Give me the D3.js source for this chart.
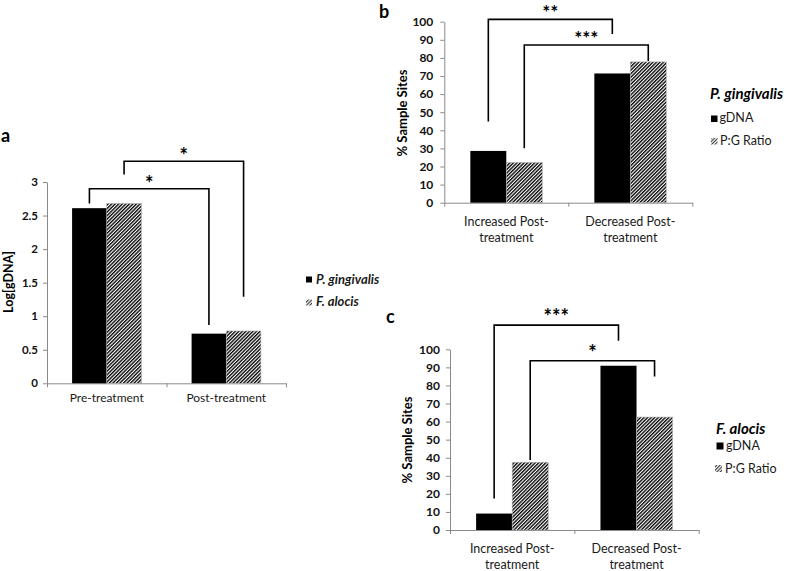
<!DOCTYPE html>
<html>
<head>
<meta charset="utf-8">
<script src="https://cdn.jsdelivr.net/npm/d3@7/dist/d3.min.js"></script>
<style>
  html, body { margin: 0; padding: 0; background: #fff; }
  svg { display: block; }
</style>
</head>
<body>
<svg id="chart" width="787" height="571"></svg>
<script>
// ---------------- DATA ----------------
// Panel a
const aCategories = [["Pre-treatment"], ["Post-treatment"]];
const aSeries = ["P. gingivalis", "F. alocis"];
const aPGingivalis = [2.61, 0.74];
const aFAlocis = [2.68, 0.78];
const aTicks = [0, 0.5, 1, 1.5, 2, 2.5, 3];
const aTickLabels = ["0", "0.5", "1", "1.5", "2", "2.5", "3"];
const aBrackets = [
  { from: [0, 0], to: [1, 0], top: 2.90, leftEnd: 2.68, rightEnd: 0.87, label: "*" },
  { from: [0, 1], to: [1, 1], top: 3.31, leftEnd: 3.11, rightEnd: 1.29, label: "*" }
];

// Panel b (P. gingivalis)
const bCategories = [["Increased Post-", "treatment"], ["Decreased Post-", "treatment"]];
const bSeries = ["gDNA", "P:G Ratio"];
const bGDNA = [28.6, 71.4];
const bRatio = [22.2, 77.8];
const bBrackets = [
  { from: [0, 0], to: [1, 0], top: 101.3, leftEnd: 44.8, rightEnd: 93.2, label: "**" },
  { from: [0, 1], to: [1, 1], top: 87.1, leftEnd: 30.1, rightEnd: 78.3, label: "***" }
];

// Panel c (F. alocis)
const cCategories = [["Increased Post-", "treatment"], ["Decreased Post-", "treatment"]];
const cSeries = ["gDNA", "P:G Ratio"];
const cGDNA = [9.1, 90.9];
const cRatio = [37.5, 62.5];
const cBrackets = [
  { from: [0, 0], to: [1, 0], top: 113.4, leftEnd: 17.5, rightEnd: 104.8, label: "***" },
  { from: [0, 1], to: [1, 1], top: 93.7, leftEnd: 38.7, rightEnd: 85.0, label: "*" }
];

const pctTicks = [0, 10, 20, 30, 40, 50, 60, 70, 80, 90, 100];
const pctTickLabels = pctTicks.map(String);

// ---------------- DRAWING ----------------
const FONT = "Lato, 'Open Sans', 'DejaVu Sans', sans-serif";
const AXIS_COLOR = "#8a8a8a";
const svg = d3.select("#chart");
svg.append("rect").attr("width", 787).attr("height", 571).attr("fill", "#fff");

const defs = svg.append("defs");
const pat = defs.append("pattern")
  .attr("id", "hatch")
  .attr("patternUnits", "userSpaceOnUse")
  .attr("width", 2.5).attr("height", 2.5)
  .attr("patternTransform", "rotate(45)");
pat.append("rect").attr("width", 2.5).attr("height", 2.5).attr("fill", "#fff");
pat.append("rect").attr("width", 1.35).attr("height", 2.5).attr("fill", "#000");

const pat2 = defs.append("pattern")
  .attr("id", "hatchIcon")
  .attr("patternUnits", "userSpaceOnUse")
  .attr("width", 2.4).attr("height", 2.4)
  .attr("patternTransform", "rotate(45)");
pat2.append("rect").attr("width", 2.4).attr("height", 2.4).attr("fill", "#fff");
pat2.append("rect").attr("width", 1.1).attr("height", 2.4).attr("fill", "#333");

function drawPanel(cfg) {
  const g = svg.append("g");
  const n = cfg.categories.length;
  const x = d3.scaleBand().domain(d3.range(n)).range(cfg.xRange).padding(0);
  const bw = x.bandwidth();
  const xs = d3.scaleBand().domain(d3.range(cfg.values.length)).range([bw * 0.21, bw * 0.79]).padding(0);
  const y = d3.scaleLinear().domain([0, cfg.yMax]).range(cfg.yRange);

  // Y axis
  const yAxis = g.append("g")
    .attr("transform", `translate(${cfg.xRange[0]},0)`)
    .call(d3.axisLeft(y).tickValues(cfg.ticks).tickSize(4).tickSizeOuter(0)
      .tickPadding(cfg.tickPad).tickFormat((d, i) => cfg.tickLabels[i]));
  yAxis.select(".domain").attr("stroke", AXIS_COLOR).attr("stroke-width", 1);
  yAxis.selectAll(".tick line").attr("stroke", AXIS_COLOR);
  yAxis.selectAll(".tick text")
    .attr("fill", "#111")
    .style("font-family", FONT)
    .style("font-size", cfg.tickFont + "px")
    .style("font-weight", "bold");

  // X axis (ticks at category boundaries)
  const xl = d3.scaleLinear().domain([0, n]).range(cfg.xRange);
  const xAxis = g.append("g")
    .attr("transform", `translate(0,${cfg.yRange[0]})`)
    .call(d3.axisBottom(xl).tickValues(d3.range(n + 1)).tickSize(4).tickSizeOuter(0).tickFormat(""));
  xAxis.select(".domain").attr("stroke", AXIS_COLOR).attr("stroke-width", 1);
  xAxis.selectAll(".tick line").attr("stroke", AXIS_COLOR);

  // Bars
  cfg.values.forEach((series, s) => {
    g.selectAll(null).data(series).enter().append("rect")
      .attr("x", (d, i) => x(i) + xs(s))
      .attr("y", d => y(d))
      .attr("width", xs.bandwidth())
      .attr("height", d => y(0) - y(d))
      .attr("fill", s === 0 ? "#000" : "url(#hatch)")
      .attr("stroke", s === 0 ? "none" : "#b0b0b0")
      .attr("stroke-width", s === 0 ? 0 : 0.6);
  });

  // Category labels
  cfg.categories.forEach((lines, i) => {
    const t = g.append("text")
      .attr("x", x(i) + bw / 2)
      .attr("y", cfg.yRange[0] + cfg.catOffset)
      .attr("text-anchor", "middle")
      .attr("fill", "#1a1a1a")
      .style("font-family", FONT)
      .style("font-size", cfg.catFont + "px");
    lines.forEach((ln, k) => {
      t.append("tspan").attr("x", x(i) + bw / 2).attr("dy", k === 0 ? 0 : cfg.catLine).text(ln);
    });
  });

  // Axis title
  g.append("text")
    .attr("transform", `translate(${cfg.titlePos[0]},${cfg.titlePos[1]}) rotate(-90)`)
    .attr("text-anchor", "middle")
    .attr("dominant-baseline", "central")
    .attr("fill", "#000")
    .style("font-family", FONT)
    .style("font-size", cfg.titleFont + "px")
    .style("font-weight", "bold")
    .text(cfg.title);

  // Brackets
  const cx = (p) => x(p[0]) + xs(p[1]) + xs.bandwidth() / 2;
  cfg.brackets.forEach(b => {
    const x1 = cx(b.from), x2 = cx(b.to);
    g.append("path")
      .attr("d", `M${x1},${y(b.leftEnd)}V${y(b.top)}H${x2}V${y(b.rightEnd)}`)
      .attr("fill", "none")
      .attr("stroke", "#000")
      .attr("stroke-width", 1.6);
    g.append("text")
      .attr("x", (x1 + x2) / 2)
      .attr("y", y(b.top) + cfg.starOffset)
      .attr("text-anchor", "middle")
      .attr("fill", "#000")
      .style("font-family", FONT)
      .style("font-size", cfg.starFont + "px")
      .style("font-weight", "bold")
      .text(b.label);
  });

  // Panel letter
  g.append("text")
    .attr("x", cfg.letterPos[0]).attr("y", cfg.letterPos[1])
    .attr("fill", "#000")
    .style("font-family", FONT)
    .style("font-size", "18px")
    .style("font-weight", "bold")
    .text(cfg.letter);

  // Legend
  const L = cfg.legend;
  if (L.title) {
    g.append("text").attr("x", L.titlePos[0]).attr("y", L.titlePos[1])
      .attr("fill", "#000")
      .style("font-family", FONT).style("font-size", L.titleFont + "px")
      .style("font-weight", "bold").style("font-style", "italic")
      .text(L.title);
  }
  L.items.forEach((it, k) => {
    g.append("rect")
      .attr("x", it.box[0]).attr("y", it.box[1])
      .attr("width", it.box[2]).attr("height", it.box[2])
      .attr("fill", k === 0 ? "#000" : "url(#hatchIcon)");
    g.append("text").attr("x", it.text[0]).attr("y", it.text[1])
      .attr("fill", "#1a1a1a")
      .style("font-family", FONT).style("font-size", L.itemFont + "px")
      .style("font-style", L.itemItalic ? "italic" : "normal")
      .style("font-weight", L.itemItalic ? "bold" : "normal")
      .text(cfg.seriesNames[k]);
  });
}

drawPanel({
  letter: "a", letterPos: [1, 142],
  categories: aCategories, seriesNames: aSeries, values: [aPGingivalis, aFAlocis],
  yMax: 3, ticks: aTicks, tickLabels: aTickLabels,
  xRange: [47, 286], yRange: [383.3, 182],
  tickPad: 5, tickFont: 11.5, catFont: 12, catOffset: 19, catLine: 16,
  title: "Log[gDNA]", titlePos: [8.5, 282], titleFont: 12.5,
  brackets: aBrackets, starOffset: 2, starFont: 20,
  legend: {
    items: [
      { box: [306, 276.5, 6], text: [316, 283.5] },
      { box: [306, 299.5, 6], text: [316, 306] }
    ],
    itemFont: 13, itemItalic: true
  }
});

drawPanel({
  letter: "b", letterPos: [379, 18],
  categories: bCategories, seriesNames: bSeries, values: [bGDNA, bRatio],
  yMax: 100, ticks: pctTicks, tickLabels: pctTickLabels,
  xRange: [444.3, 692.3], yRange: [202.7, 21.7],
  tickPad: 7, tickFont: 12, catFont: 12.5, catOffset: 23, catLine: 16.5,
  title: "% Sample Sites", titlePos: [401.5, 113], titleFont: 13,
  brackets: bBrackets, starOffset: 0, starFont: 19,
  legend: {
    title: "P. gingivalis", titlePos: [710, 98.5], titleFont: 15,
    items: [
      { box: [711, 115.5, 6.5], text: [719.5, 122] },
      { box: [711, 138, 6.5], text: [720, 144.5] }
    ],
    itemFont: 12.5, itemItalic: false
  }
});

drawPanel({
  letter: "c", letterPos: [386, 323],
  categories: cCategories, seriesNames: cSeries, values: [cGDNA, cRatio],
  yMax: 100, ticks: pctTicks, tickLabels: pctTickLabels,
  xRange: [450, 698.7], yRange: [530, 349.3],
  tickPad: 6, tickFont: 12, catFont: 12.5, catOffset: 22.6, catLine: 16.5,
  title: "% Sample Sites", titlePos: [406.5, 440], titleFont: 13,
  brackets: cBrackets, starOffset: -1, starFont: 20,
  legend: {
    title: "F. alocis", titlePos: [716, 433.5], titleFont: 15,
    items: [
      { box: [716.5, 442.5, 7], text: [726, 449.5] },
      { box: [715, 465, 7], text: [725, 472.5] }
    ],
    itemFont: 12.5, itemItalic: false
  }
});
</script>
</body>
</html>
